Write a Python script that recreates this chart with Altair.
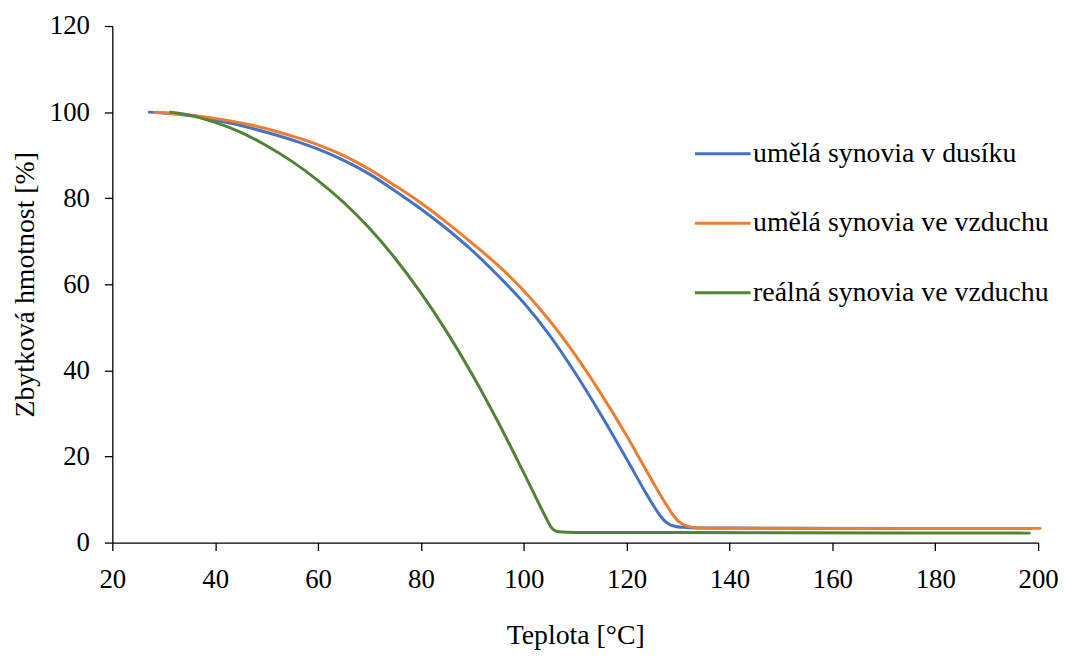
import altair as alt
import pandas as pd

series_names = ["umělá synovia v dusíku", "umělá synovia ve vzduchu", "reálná synovia ve vzduchu"]
series_colors = ["#4472C4", "#ED7D31", "#548235"]

t_blue = [27.2, 30, 35, 40, 45, 50, 56.1, 60, 65, 70, 75, 80, 85, 90, 95, 100, 105, 110,
          115, 120, 123.7, 125, 126.5, 127.6, 128.5, 129.5, 131, 133.4, 150, 175, 198.5]
m_blue = [100.0, 99.8, 99.2, 98.1, 96.9, 95.3, 93.1, 91.4, 88.8, 85.6, 81.7, 77.5, 72.9, 67.8, 62.0, 55.7, 48.2, 39.4,
          29.7, 19.4, 11.6, 9.0, 6.3, 4.8, 4.1, 3.75, 3.55, 3.4, 3.35, 3.3, 3.3]

t_orange = [28.3, 30, 35, 40, 45, 50, 56.1, 60, 65, 70, 75, 80, 85, 90, 95, 100, 105, 110, 115, 120,
            123, 126.3, 127.6, 129.1, 130.2, 131.2, 132.2, 133.5, 136, 160, 180, 200.4]
m_orange = [100.0, 99.85, 99.35, 98.55, 97.5, 96.15, 94.0, 92.4, 89.9, 86.7, 82.9, 78.9, 74.4, 69.5, 64.4, 58.5, 51.6, 43.6, 34.6, 24.8,
            18.5, 11.6, 9.0, 6.3, 4.8, 4.1, 3.7, 3.45, 3.35, 3.3, 3.3, 3.3]

t_green = [31.3, 35, 40, 45, 50, 55, 60, 65, 70, 75, 80, 85, 90, 95, 100, 104.4, 105.3, 106.0, 106.8,
           110, 150, 198.3]
m_green = [100.0, 99.3, 97.6, 95.3, 92.2, 88.5, 84.1, 79.0, 73.0, 66.0, 58.0, 49.0, 39.0, 28.0, 16.2, 5.6, 3.6, 2.8, 2.5,
           2.35, 2.3, 2.2]

x_ticks = [20, 40, 60, 80, 100, 120, 140, 160, 180, 200]
y_ticks = [0, 20, 40, 60, 80, 100, 120]

frames = []
for name, t, m in zip(series_names, [t_blue, t_orange, t_green], [m_blue, m_orange, m_green]):
    frames.append(pd.DataFrame({"t": t, "m": m, "series": name}))
df = pd.concat(frames, ignore_index=True)

FONT = "Liberation Serif"

color = alt.Color(
    "series:N",
    scale=alt.Scale(domain=series_names, range=series_colors),
    legend=alt.Legend(
        orient="none", legendX=585, legendY=99, title=None,
        symbolType="stroke", symbolSize=3136, symbolStrokeWidth=3,
        labelFont=FONT, labelFontSize=28, labelColor="black", labelLimit=500,
        labelOffset=1, rowPadding=26, padding=0,
    ),
)

x_enc = alt.X(
    "t:Q",
    scale=alt.Scale(domain=[20, 200], nice=False, zero=False),
    axis=alt.Axis(
        values=x_ticks, title="Teplota [°C]", grid=False, labelFlush=False,
        tickSize=8, tickColor="black", domainColor="black", domainWidth=1.3, tickWidth=1.3,
        labelFont=FONT, labelFontSize=27, labelColor="black", labelPadding=16,
        titleFont=FONT, titleFontSize=28, titleFontWeight="normal", titleColor="black", titlePadding=30,
    ),
)
y_enc = alt.Y(
    "m:Q",
    scale=alt.Scale(domain=[0, 120], nice=False),
    axis=alt.Axis(
        values=y_ticks, title="Zbytková hmotnost [%]", grid=False, labelFlush=False,
        tickSize=8, tickColor="black", domainColor="black", domainWidth=1.3, tickWidth=1.3,
        labelFont=FONT, labelFontSize=27, labelColor="black", labelPadding=15,
        titleFont=FONT, titleFontSize=28, titleFontWeight="normal", titleColor="black", titlePadding=10,
    ),
)

layers = []
for name in series_names:
    layers.append(
        alt.Chart(df)
        .transform_filter(alt.datum.series == name)
        .mark_line(strokeWidth=3, interpolate="monotone", strokeCap="round")
        .encode(x=x_enc, y=y_enc, color=color)
    )

chart = (
    alt.layer(*layers)
    .properties(
        width=932, height=520,
        autosize=alt.AutoSizeParams(type="none"),
        padding={"left": 105, "top": 16, "right": 22, "bottom": 109},
        background="white",
    )
    .configure(font=FONT)
    .configure_view(stroke=None)
)

chart.save("out.html", embed_options={"renderer": "svg", "actions": False})
